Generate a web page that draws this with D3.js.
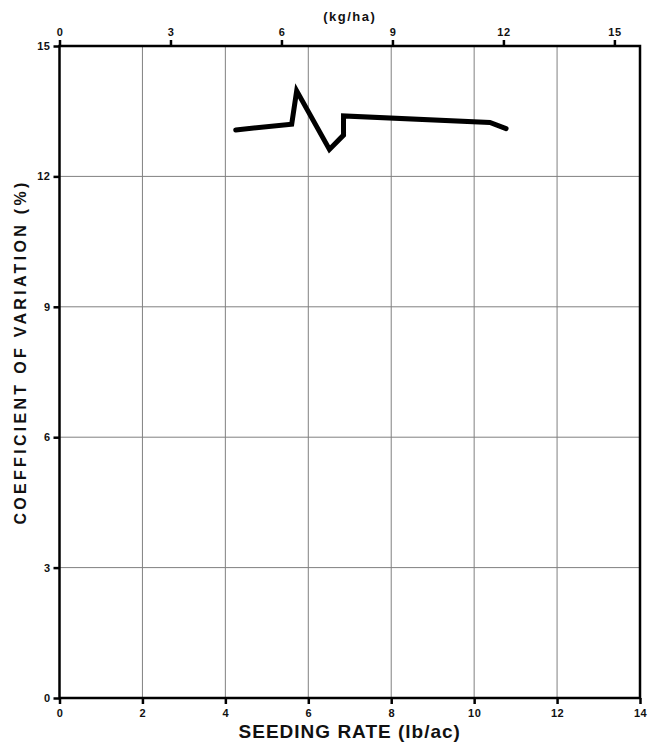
<!DOCTYPE html>
<html>
<head>
<meta charset="utf-8">
<script src="https://cdn.jsdelivr.net/npm/d3@7"></script>
<style>
  body { margin: 0; background: #fff; }
  text { font-family: "Liberation Sans", Arial, sans-serif; fill: #111; }
</style>
</head>
<body>
<div id="chart"></div>
<script>
// seeding rate (lb/ac) and coefficient of variation (%)
var seedRate = [4.25, 5.60, 5.72, 6.51, 6.85, 6.85, 10.38, 10.77];
var cvValues = [13.07, 13.20, 13.97, 12.62, 12.95, 13.39, 13.24, 13.10];

var xTicks = [0, 2, 4, 6, 8, 10, 12, 14];
var yTicks = [0, 3, 6, 9, 12, 15];
var kgTicks = [0, 3, 6, 9, 12, 15];

var margin = {top: 46, right: 10, bottom: 45, left: 59.5};
const width = 650 - margin.left - margin.right;
const height = 743 - margin.top - margin.bottom;

var svg = d3.select('#chart').append("svg")
    .attr("width", 650)
    .attr("height", 743)
    .append("g")
    .attr("transform", `translate(${margin.left},${margin.top})`);

const xScale = d3.scaleLinear().domain([0, 14]).range([0, width]);
const yScale = d3.scaleLinear().domain([0, 15]).range([height, 0]);
// 1 lb/ac = 1.12085 kg/ha
const kgScale = d3.scaleLinear().domain([0, 14 * 1.12085]).range([0, width]);

// grid
svg.append("g")
    .selectAll("line")
    .data(xTicks.slice(1, -1))
    .enter().append("line")
    .attr("x1", d => xScale(d)).attr("x2", d => xScale(d))
    .attr("y1", 0).attr("y2", height)
    .attr("stroke", "#808080").attr("stroke-width", 1);

svg.append("g")
    .selectAll("line")
    .data(yTicks.slice(1, -1))
    .enter().append("line")
    .attr("x1", 0).attr("x2", width)
    .attr("y1", d => yScale(d)).attr("y2", d => yScale(d))
    .attr("stroke", "#808080").attr("stroke-width", 1);

// axes
function styleAxis(g) {
    g.select(".domain").remove();
    g.selectAll(".tick line").attr("stroke", "#000").attr("stroke-width", 2.5);
    g.selectAll(".tick text")
        .style("font-size", "11px")
        .style("font-weight", "bold")
        .style("letter-spacing", "0.5px")
        .style("font-family", "'Liberation Sans', Arial, sans-serif")
        .attr("fill", "#111");
}

svg.append("g")
    .attr("transform", "translate(0," + height + ")")
    .call(d3.axisBottom(xScale).tickValues(xTicks).tickSize(6).tickPadding(5))
    .call(styleAxis);

svg.append("g")
    .call(d3.axisTop(kgScale).tickValues(kgTicks).tickSize(6).tickPadding(4))
    .call(styleAxis);

svg.append("g")
    .call(d3.axisLeft(yScale).tickValues(yTicks).tickSize(6).tickPadding(3))
    .call(styleAxis);

// frame
svg.append("rect")
    .attr("x", 0).attr("y", 0)
    .attr("width", width).attr("height", height)
    .attr("fill", "none")
    .attr("stroke", "#000")
    .attr("stroke-width", 2.5);

// data line
var line = d3.line()
    .x((d, i) => xScale(seedRate[i]))
    .y(d => yScale(d));

svg.append("path")
    .datum(cvValues)
    .attr("d", line)
    .attr("fill", "none")
    .attr("stroke", "#000")
    .attr("stroke-width", 5)
    .attr("stroke-linejoin", "miter")
    .attr("stroke-linecap", "round");

// labels
svg.append("text")
    .attr("x", xScale(7))
    .attr("y", height + 40)
    .style("font-size", "19px")
    .style("font-weight", "bold")
    .style("letter-spacing", "1px")
    .style("text-anchor", "middle")
    .text("SEEDING RATE (lb/ac)");

svg.append("text")
    .attr("transform", "translate(" + (-34) + "," + (352 - margin.top) + ") rotate(-90)")
    .style("font-size", "16px")
    .style("font-weight", "bold")
    .style("letter-spacing", "3.3px")
    .style("text-anchor", "middle")
    .text("COEFFICIENT OF VARIATION (%)");

svg.append("text")
    .attr("x", xScale(7))
    .attr("y", -25)
    .style("font-size", "13px")
    .style("font-weight", "bold")
    .style("letter-spacing", "1.5px")
    .style("text-anchor", "middle")
    .text("(kg/ha)");
</script>
</body>
</html>
